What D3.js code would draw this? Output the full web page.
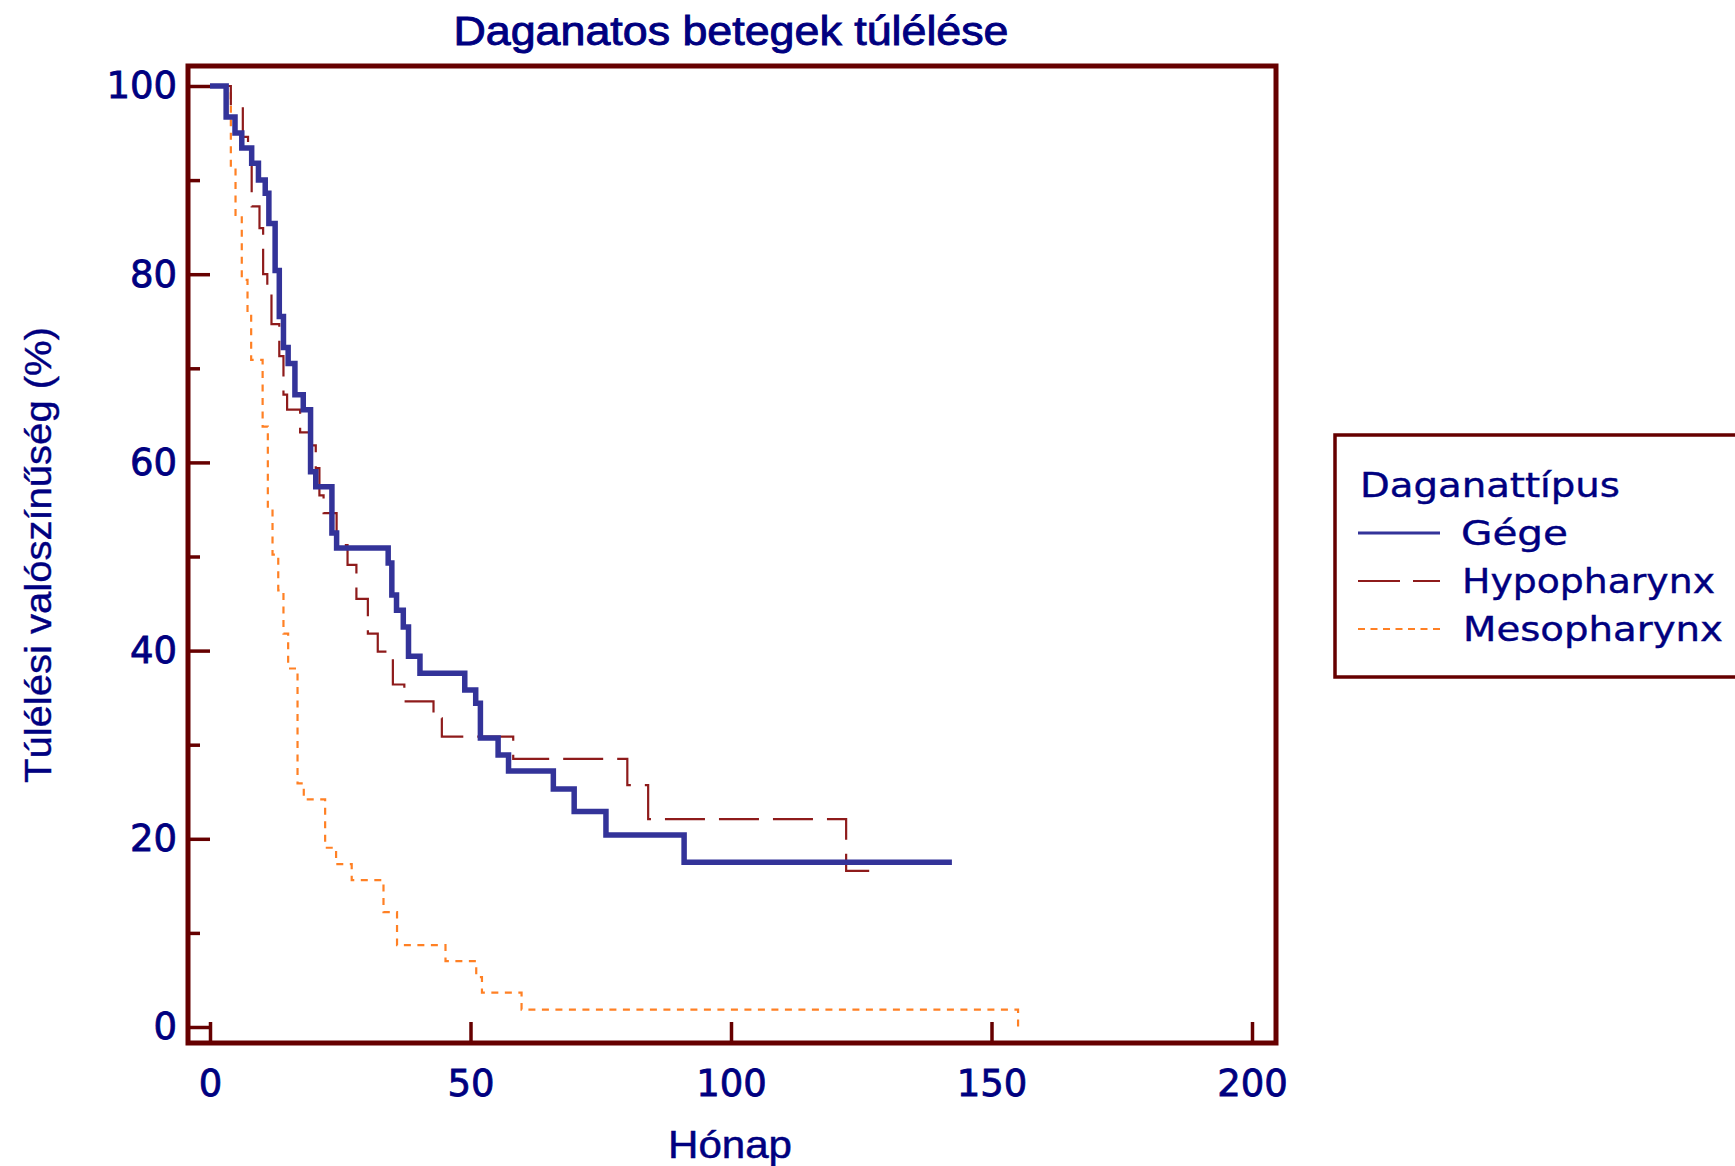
<!DOCTYPE html>
<html><head><meta charset="utf-8">
<script src="https://cdn.jsdelivr.net/npm/d3@7"></script>
<style>body{margin:0;background:#fff;} svg{display:block}</style>
</head><body>
<svg id="chart" width="1735" height="1166"></svg>
<script>
// ---- data ----
const chartTitle = "Daganatos betegek túlélése";
const xLabel = "Hónap";
const yLabel = "Túlélési valószínűség (%)";
const legendTitle = "Daganattípus";
const seriesNames = ["Gége", "Hypopharynx", "Mesopharynx"];
const xTicks = [0, 50, 100, 150, 200];
const yMajorTicks = [0, 20, 40, 60, 80, 100];
const yMinorTicks = [10, 30, 50, 70, 90];

const gegeMonths = [0, 3.1, 4.8, 6.1, 8.0, 9.3, 10.6, 11.3, 12.5, 13.3, 14.1, 15.0, 16.3, 17.9, 19.3, 20.3, 23.4, 24.3, 34.2, 34.9, 35.8, 37.1, 38.1, 40.3, 48.9, 51.0, 51.9, 55.3, 57.3, 65.9, 69.9, 76.0, 91.0, 142.4];
const gegeSurvival = [100, 96.7, 95.0, 93.4, 91.8, 90.0, 88.6, 85.4, 80.4, 75.5, 72.2, 70.5, 67.2, 65.6, 59.0, 57.4, 52.5, 50.9, 49.3, 45.9, 44.3, 42.5, 39.4, 37.6, 35.8, 34.4, 30.7, 28.9, 27.2, 25.3, 22.9, 20.4, 17.5, 17.5];

const hypoMonths = [0, 4.0, 6.3, 7.3, 8.0, 9.5, 10.2, 11.0, 11.8, 13.3, 14.1, 14.8, 17.3, 19.3, 20.3, 21.0, 21.8, 24.3, 26.4, 28.1, 30.3, 32.2, 35.1, 37.3, 42.9, 44.5, 58.2, 80.1, 84.1, 122.1, 128.9];
const hypoSurvival = [100, 97.8, 94.6, 92.7, 87.2, 84.9, 80.0, 78.3, 74.7, 71.3, 67.2, 65.6, 63.2, 61.8, 59.4, 56.5, 54.6, 51.2, 49.1, 45.5, 41.8, 39.9, 36.4, 34.6, 32.8, 30.85, 28.5, 25.7, 22.1, 16.6, 16.6];

const mesoMonths = [0, 4.0, 4.9, 6.1, 7.2, 7.9, 10.1, 11.1, 12.0, 13.1, 14.1, 15.0, 16.8, 18.0, 22.1, 24.2, 27.2, 33.3, 35.9, 45.2, 51.1, 52.2, 59.8, 155.1];
const mesoSurvival = [100, 91.4, 86.3, 79.4, 75.7, 70.9, 63.8, 55.1, 50.2, 46.4, 41.8, 38.1, 25.9, 24.2, 19.05, 17.3, 15.6, 12.2, 8.7, 7.0, 5.3, 3.65, 1.85, 0];

// ---- styles ----
const frameColor = "#660000";
const textColor = "#000080";
const seriesStyles = [
  {color: "#333399", width: 5.5, dash: null, legendWidth: 3, legendDash: null},
  {color: "#8e1b1b", width: 2.2, dash: "40,14", legendWidth: 2.2, legendDash: "42,13"},
  {color: "#ff8024", width: 2.2, dash: "7,6.5", legendWidth: 2, legendDash: "7,5.5"}
];

const svg = d3.select("#chart");
const x = d3.scaleLinear().domain([0, 200]).range([210, 1252]);
const y = d3.scaleLinear().domain([0, 100]).range([1027, 86]);

const plot = {left: 188, top: 66, right: 1276, bottom: 1043};

// title
svg.append("text")
  .attr("x", 731).attr("y", 45)
  .attr("text-anchor", "middle")
  .attr("font-family", "Liberation Sans, Arial, sans-serif")
  .attr("font-size", 40)
  .attr("fill", textColor)
  .attr("stroke", textColor).attr("stroke-width", 0.9)
  .attr("textLength", 555).attr("lengthAdjust", "spacingAndGlyphs")
  .text(chartTitle);

// curves
const series = [
  {name: seriesNames[0], months: gegeMonths, surv: gegeSurvival},
  {name: seriesNames[1], months: hypoMonths, surv: hypoSurvival},
  {name: seriesNames[2], months: mesoMonths, surv: mesoSurvival}
];
const line = d3.line().x(d => x(d[0])).y(d => y(d[1])).curve(d3.curveStepAfter);

const order = [2, 1, 0];
order.forEach(i => {
  const s = series[i], st = seriesStyles[i];
  const pts = s.months.map((m, k) => [m, s.surv[k]]);
  svg.append("path")
    .attr("d", line(pts))
    .attr("fill", "none")
    .attr("stroke", st.color)
    .attr("stroke-width", st.width)
    .attr("stroke-linecap", "butt")
    .attr("stroke-dasharray", st.dash);
});

// axes
const xAxis = d3.axisBottom(x).tickValues(xTicks).tickSize(-21).tickPadding(27).tickFormat(d3.format("d"));
const gx = svg.append("g").attr("transform", `translate(0,${plot.bottom})`).call(xAxis);
const yAxis = d3.axisLeft(y).tickValues(yMajorTicks).tickSize(-22).tickPadding(11).tickFormat(d3.format("d"));
const gy = svg.append("g").attr("transform", `translate(${plot.left},0)`).call(yAxis);
const yAxisMinor = d3.axisLeft(y).tickValues(yMinorTicks).tickSize(-12).tickFormat("");
const gy2 = svg.append("g").attr("transform", `translate(${plot.left},0)`).call(yAxisMinor);
[gx, gy, gy2].forEach(g => {
  g.select(".domain").remove();
  g.selectAll(".tick line").attr("stroke", frameColor).attr("stroke-width", 3.5);
  g.selectAll(".tick text")
    .attr("fill", textColor)
    .attr("stroke", textColor).attr("stroke-width", 0.8)
    .attr("font-family", "DejaVu Sans, Verdana, sans-serif")
    .attr("font-size", 37);
});

// frame
svg.append("rect")
  .attr("x", plot.left).attr("y", plot.top)
  .attr("width", plot.right - plot.left).attr("height", plot.bottom - plot.top)
  .attr("fill", "none").attr("stroke", frameColor).attr("stroke-width", 5);

// axis labels
svg.append("text")
  .attr("x", 730).attr("y", 1158)
  .attr("text-anchor", "middle")
  .attr("font-family", "Liberation Sans, Arial, sans-serif")
  .attr("font-size", 38)
  .attr("fill", textColor)
  .attr("stroke", textColor).attr("stroke-width", 0.5)
  .attr("textLength", 124).attr("lengthAdjust", "spacingAndGlyphs")
  .text(xLabel);

svg.append("text")
  .attr("transform", "translate(51,555) rotate(-90)")
  .attr("text-anchor", "middle")
  .attr("font-family", "Liberation Sans, Arial, sans-serif")
  .attr("font-size", 37)
  .attr("fill", textColor)
  .attr("stroke", textColor).attr("stroke-width", 0.4)
  .attr("textLength", 456).attr("lengthAdjust", "spacingAndGlyphs")
  .text(yLabel);

// legend
const lg = svg.append("g");
lg.append("rect")
  .attr("x", 1335).attr("y", 435).attr("width", 420).attr("height", 242)
  .attr("fill", "#fff").attr("stroke", frameColor).attr("stroke-width", 3.5);
lg.append("text")
  .attr("x", 1360).attr("y", 497)
  .attr("font-family", "DejaVu Sans, Verdana, sans-serif")
  .attr("font-size", 34).attr("fill", textColor)
  .attr("stroke", textColor).attr("stroke-width", 0.4)
  .attr("textLength", 260).attr("lengthAdjust", "spacingAndGlyphs")
  .text(legendTitle);
const legendRows = [
  {lineY: 533, textY: 545, textX: 1461, len: 107},
  {lineY: 581, textY: 593, textX: 1462, len: 253},
  {lineY: 629, textY: 641, textX: 1463, len: 260}
];
legendRows.forEach((r, i) => {
  const st = seriesStyles[i];
  lg.append("line")
    .attr("x1", 1358).attr("x2", 1440).attr("y1", r.lineY).attr("y2", r.lineY)
    .attr("stroke", st.color).attr("stroke-width", st.legendWidth)
    .attr("stroke-dasharray", st.legendDash);
  lg.append("text")
    .attr("x", r.textX).attr("y", r.textY)
    .attr("font-family", "DejaVu Sans, Verdana, sans-serif")
    .attr("font-size", 34).attr("fill", textColor)
    .attr("stroke", textColor).attr("stroke-width", 0.4)
    .attr("textLength", r.len).attr("lengthAdjust", "spacingAndGlyphs")
    .text(seriesNames[i]);
});
</script>
</body></html>
